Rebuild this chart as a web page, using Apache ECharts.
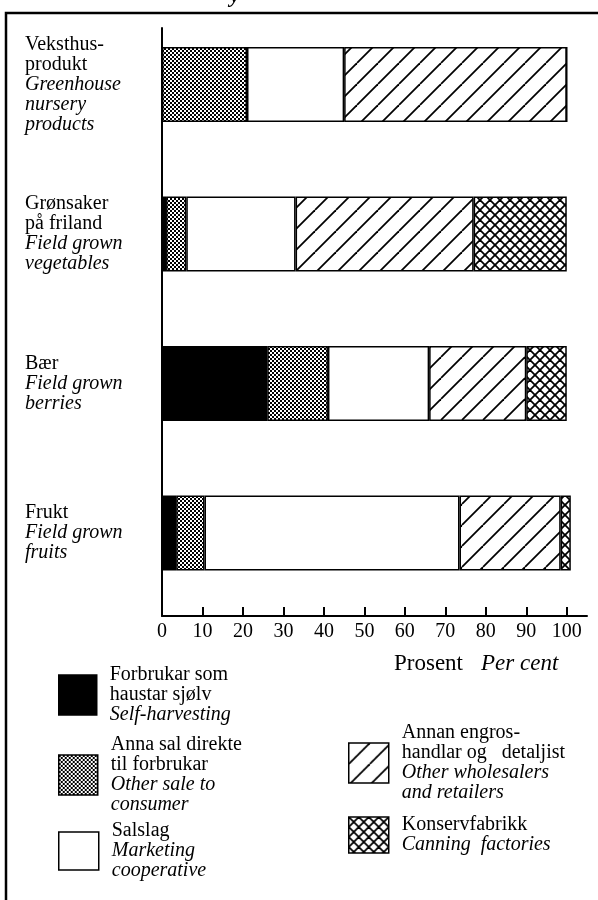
<!DOCTYPE html>
<html>
<head>
<meta charset="utf-8">
<script src="https://cdn.jsdelivr.net/npm/echarts@6/dist/echarts.min.js"></script>
<style>
  html, body { margin: 0; padding: 0; background: #fff; }
  #chart { width: 598px; height: 900px; }
</style>
</head>
<body>
<div id="chart"></div>
<script>
// categories, top to bottom
var categories = ['Veksthus', 'Grønsaker', 'Bær', 'Frukt'];
var categoryNo = ['Veksthus-\nprodukt', 'Grønsaker\npå friland', 'Bær', 'Frukt'];
var categoryEn = ['Greenhouse\nnursery\nproducts', 'Field grown\nvegetables', 'Field grown\nberries', 'Field grown\nfruits'];

// per cent of sales by channel
var selfHarvest = [0, 1, 26, 3.5];
var otherSale = [21, 5, 15, 7];
var cooperative = [24, 27, 25, 63];
var wholesale = [55, 44, 24, 25];
var canning = [0, 23, 10, 2.5];

var seriesNames = ['self', 'other', 'coop', 'whole', 'canning'];
var legendNo = ['Forbrukar som\nhaustar sjølv', 'Anna sal direkte\ntil forbrukar', 'Salslag', 'Annan engros-\nhandlar og   detaljist', 'Konservfabrikk'];
var legendEn = ['Self-harvesting', 'Other sale to\nconsumer', 'Marketing\ncooperative', 'Other wholesalers\nand retailers', 'Canning  factories'];

var tickValues = [0, 10, 20, 30, 40, 50, 60, 70, 80, 90, 100];

var serif = '"Liberation Serif", "DejaVu Serif", serif';

function makePattern(kind) {
    var c = document.createElement('canvas');
    var ctx = c.getContext('2d');
    var s;
    if (kind === 'dots') {
        c.width = 4; c.height = 4;
        ctx.fillStyle = '#fff';
        ctx.fillRect(0, 0, 4, 4);
        ctx.fillStyle = '#000';
        ctx.fillRect(0, 0, 2, 2);
        ctx.fillRect(2, 2, 2, 2);
    } else if (kind === 'hatch') {
        s = 21;
        c.width = s; c.height = s;
        ctx.fillStyle = '#fff';
        ctx.fillRect(0, 0, s, s);
        ctx.strokeStyle = '#000';
        ctx.lineWidth = 1.8;
        for (var k = -1; k <= 1; k++) {
            ctx.beginPath();
            ctx.moveTo(k * s, s);
            ctx.lineTo(k * s + s, 0);
            ctx.stroke();
        }
    } else {
        s = 10;
        c.width = s; c.height = s;
        ctx.fillStyle = '#fff';
        ctx.fillRect(0, 0, s, s);
        ctx.strokeStyle = '#000';
        ctx.lineWidth = 1.8;
        for (var j = -1; j <= 1; j++) {
            ctx.beginPath();
            ctx.moveTo(j * s, s);
            ctx.lineTo(j * s + s, 0);
            ctx.stroke();
            ctx.beginPath();
            ctx.moveTo(j * s, 0);
            ctx.lineTo(j * s + s, s);
            ctx.stroke();
        }
    }
    return { image: c, repeat: 'repeat' };
}

var fills = ['#000', makePattern('dots'), '#fff', makePattern('hatch'), makePattern('cross')];
var values = [selfHarvest, otherSale, cooperative, wholesale, canning];

var chart = echarts.init(document.getElementById('chart'), null, { renderer: 'canvas' });

var textRich = {
    n: { fontFamily: serif, fontSize: 20, lineHeight: 20, fontWeight: 'normal', color: '#000' },
    i: { fontFamily: serif, fontSize: 20, lineHeight: 20, fontWeight: 'normal', fontStyle: 'italic', color: '#000' }
};

function richLines(no, en) {
    var out = [];
    no.split('\n').forEach(function (l) { out.push('{n|' + l + '}'); });
    en.split('\n').forEach(function (l) { out.push('{i|' + l + '}'); });
    return out.join('\n');
}

var series = seriesNames.map(function (name, idx) {
    return {
        name: name,
        type: 'bar',
        stack: 'total',
        xAxisIndex: 0,
        yAxisIndex: 0,
        barWidth: 75,
        silent: true,
        itemStyle: { color: fills[idx], borderColor: '#000', borderWidth: 1.5 },
        data: values[idx]
    };
});

// legend boxes: [left, top, boxWidth, boxHeight]
var legendPos = [
    [58, 665, 38, 40],
    [58, 735, 39, 40],
    [58, 821, 40, 38],
    [348, 723, 40, 40],
    [348, 815, 40, 36]
];

var legends = seriesNames.map(function (name, idx) {
    return {
        data: [name],
        left: legendPos[idx][0],
        top: legendPos[idx][1],
        orient: 'vertical',
        icon: 'rect',
        itemWidth: legendPos[idx][2],
        itemHeight: legendPos[idx][3],
        selectedMode: false,
        padding: 0,
        itemStyle: { borderColor: '#000', borderWidth: 1.5 },
        formatter: function () { return richLines(legendNo[idx], legendEn[idx]); },
        textStyle: { padding: [0, 0, 0, 8], rich: textRich }
    };
});

var option = {
    animation: false,
    backgroundColor: '#fff',
    title: {
        text: '{n|Prosent}{g|}{i|Per cent}',
        left: 394,
        top: 652,
        padding: 0,
        textStyle: {
            rich: {
                n: { fontFamily: serif, fontSize: 23, lineHeight: 24, fontWeight: 'normal', color: '#000' },
                g: { width: 18 },
                i: { fontFamily: serif, fontSize: 23, lineHeight: 24, fontWeight: 'normal', fontStyle: 'italic', color: '#000' }
            }
        }
    },
    legend: legends,
    grid: [
        { left: 162, top: 9.75, width: 425, height: 598 },
        { left: 162, top: 28, width: 425, height: 588 }
    ],
    xAxis: [
        { gridIndex: 0, type: 'value', min: 0, max: 105, show: false },
        {
            gridIndex: 1, type: 'value', min: 0, max: 105, interval: 10,
            axisLine: { lineStyle: { color: '#000', width: 2 } },
            axisTick: { inside: true, length: 9, customValues: tickValues, lineStyle: { color: '#000', width: 2 } },
            axisLabel: { customValues: tickValues, margin: 6, color: '#000', fontFamily: serif, fontSize: 20 },
            splitLine: { show: false }
        }
    ],
    yAxis: [
        {
            gridIndex: 0, type: 'category', inverse: true, data: categories,
            axisLine: { show: false },
            axisTick: { show: false },
            axisLabel: {
                margin: 137,
                align: 'left',
                formatter: function (v, i) { return richLines(categoryNo[i], categoryEn[i]); },
                rich: textRich
            }
        },
        {
            gridIndex: 1, type: 'value', min: 0, max: 1,
            axisLine: { show: true, lineStyle: { color: '#000', width: 2 } },
            axisTick: { show: false },
            axisLabel: { show: false },
            splitLine: { show: false }
        }
    ],
    graphic: [
        {
            type: 'rect', silent: true,
            shape: { x: 6, y: 13, width: 700, height: 1000 },
            style: { fill: 'none', stroke: '#000', lineWidth: 2.5 }
        },
        {
            type: 'text', silent: true, left: 230, top: -15,
            style: { text: 'y', font: 'italic bold 22px ' + serif, fill: '#000' }
        }
    ],
    series: series
};

chart.setOption(option);
</script>
</body>
</html>
